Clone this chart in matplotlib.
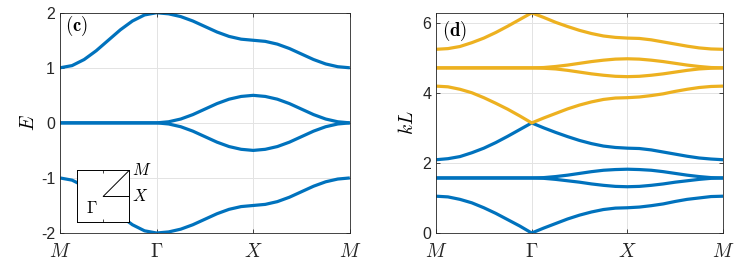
import numpy as np
import matplotlib
matplotlib.use("Agg")
import matplotlib.pyplot as plt

plt.rcParams['font.family'] = ['Liberation Sans', 'DejaVu Sans']
plt.rcParams['mathtext.fontset'] = 'cm'

BLUE = '#0072BD'
ORANGE = '#EDB120'

# high-symmetry path M -> Gamma -> X -> M, 8 samples per segment
k_labels = [r'$M$', r'$\Gamma$', r'$X$', r'$M$']
k_path = np.linspace(0, 3, 25)

# panel (c): energy bands
E_top = [1.00, 1.04, 1.15, 1.31, 1.50, 1.69, 1.85, 1.96, 2.00, 1.98, 1.93, 1.85, 1.75,
         1.65, 1.57, 1.52, 1.50, 1.48, 1.43, 1.35, 1.25, 1.15, 1.07, 1.02, 1.00]
E_mid_up = [0, 0, 0, 0, 0, 0, 0, 0, 0, 0.02, 0.07, 0.15, 0.25,
            0.35, 0.43, 0.48, 0.50, 0.48, 0.43, 0.35, 0.25, 0.15, 0.07, 0.02, 0.00]
E_mid_dn = [0, 0, 0, 0, 0, 0, 0, 0, 0, -0.02, -0.07, -0.15, -0.25,
            -0.35, -0.43, -0.48, -0.50, -0.48, -0.43, -0.35, -0.25, -0.15, -0.07, -0.02, 0.00]
E_bot = [-1.00, -1.04, -1.15, -1.31, -1.50, -1.69, -1.85, -1.96, -2.00, -1.98, -1.93, -1.85, -1.75,
         -1.65, -1.57, -1.52, -1.50, -1.48, -1.43, -1.35, -1.25, -1.15, -1.07, -1.02, -1.00]

# panel (d): kL bands, first branch (blue) and second branch (orange)
kL_b1 = [1.05, 1.03, 0.96, 0.86, 0.72, 0.56, 0.38, 0.20, 0.00, 0.14, 0.27, 0.40, 0.51,
         0.60, 0.67, 0.71, 0.72, 0.74, 0.78, 0.83, 0.90, 0.96, 1.00, 1.04, 1.05]
kL_b2 = [1.57, 1.57, 1.57, 1.57, 1.57, 1.57, 1.57, 1.57, 1.57, 1.56, 1.53, 1.49, 1.45,
         1.40, 1.36, 1.33, 1.32, 1.33, 1.36, 1.40, 1.45, 1.49, 1.53, 1.56, 1.57]
kL_b3 = [1.57, 1.57, 1.57, 1.57, 1.57, 1.57, 1.57, 1.57, 1.57, 1.58, 1.61, 1.65, 1.70,
         1.75, 1.79, 1.81, 1.82, 1.81, 1.79, 1.75, 1.70, 1.65, 1.61, 1.58, 1.57]
kL_b4 = [2.09, 2.12, 2.18, 2.29, 2.42, 2.58, 2.76, 2.95, 3.14, 3.00, 2.87, 2.75, 2.64,
         2.55, 2.48, 2.44, 2.42, 2.41, 2.37, 2.31, 2.25, 2.19, 2.14, 2.11, 2.09]
kL_o1 = [4.19, 4.17, 4.10, 4.00, 3.86, 3.70, 3.53, 3.34, 3.14, 3.28, 3.41, 3.54, 3.65,
         3.74, 3.81, 3.85, 3.86, 3.88, 3.92, 3.97, 4.04, 4.10, 4.15, 4.18, 4.19]
kL_o2 = [4.71, 4.71, 4.71, 4.71, 4.71, 4.71, 4.71, 4.71, 4.71, 4.70, 4.68, 4.64, 4.59,
         4.54, 4.50, 4.47, 4.46, 4.47, 4.50, 4.54, 4.59, 4.64, 4.68, 4.70, 4.71]
kL_o3 = [4.71, 4.71, 4.71, 4.71, 4.71, 4.71, 4.71, 4.71, 4.71, 4.72, 4.75, 4.79, 4.84,
         4.89, 4.93, 4.96, 4.97, 4.96, 4.93, 4.89, 4.84, 4.79, 4.75, 4.72, 4.71]
kL_o4 = [5.24, 5.26, 5.32, 5.43, 5.56, 5.72, 5.90, 6.09, 6.28, 6.15, 6.01, 5.89, 5.78,
         5.69, 5.62, 5.58, 5.56, 5.55, 5.51, 5.45, 5.39, 5.33, 5.28, 5.25, 5.24]

c_yticks = [-2, -1, 0, 1, 2]
d_yticks = [0, 2, 4, 6]


def style_axes(ax):
    for s in ax.spines.values():
        s.set_color('#262626')
        s.set_linewidth(0.6)
    ax.grid(True, color='#e3e3e3', linewidth=0.7)
    ax.set_axisbelow(True)
    ax.tick_params(direction='in', length=3, width=0.6, top=True, right=True,
                   colors='#262626', labelsize=11.5)
    ax.tick_params(axis='x', labelsize=14, pad=7)
    ax.set_xlim(0, 3)
    ax.set_xticks([0, 1, 2, 3])
    ax.set_xticklabels(k_labels)


fig = plt.figure(figsize=(7.47, 2.67), dpi=100)

# (c)
axc = fig.add_axes([0.0803, 0.1273, 0.388, 0.825])
for band in [E_top, E_mid_up, E_mid_dn, E_bot]:
    axc.plot(k_path, band, color=BLUE, linewidth=2.3, solid_capstyle='butt')
style_axes(axc)
axc.set_ylim(-2, 2)
axc.set_yticks(c_yticks)
axc.set_yticklabels([str(v) for v in c_yticks])
axc.set_ylabel(r'$E$', fontsize=14, labelpad=2)
axc.text(0.017, 0.94, r'$\mathbf{(c)}$', transform=axc.transAxes, fontsize=13.5,
         va='center', ha='left')

# inset: Brillouin zone path
axi = fig.add_axes([0.1035, 0.1674, 0.0696, 0.1948])
axi.set_facecolor('white')
axi.plot([0, 1], [0, 1], color='black', linewidth=0.7)
axi.plot([0, 1], [0, 0], color='black', linewidth=0.7)
axi.set_xlim(-1, 1)
axi.set_ylim(-1, 1)
axi.set_xticks([0])
axi.set_yticks([])
axi.tick_params(direction='in', length=2, width=0.5, top=True, labelbottom=False)
for s in axi.spines.values():
    s.set_linewidth(0.7)
    s.set_color('black')
axi.text(-0.45, -0.45, r'$\Gamma$', fontsize=12, ha='center', va='center')
axi.text(1.12, 1.0, r'$M$', fontsize=12, ha='left', va='center', clip_on=False)
axi.text(1.12, 0.0, r'$X$', fontsize=12, ha='left', va='center', clip_on=False)

# (d)
axd = fig.add_axes([0.5837, 0.1273, 0.3842, 0.825])
for band in [kL_b1, kL_b2, kL_b3, kL_b4]:
    axd.plot(k_path, band, color=BLUE, linewidth=2.3, solid_capstyle='butt')
for band in [kL_o1, kL_o2, kL_o3, kL_o4]:
    axd.plot(k_path, band, color=ORANGE, linewidth=2.3, solid_capstyle='butt')
style_axes(axd)
axd.set_ylim(0, 6.2832)
axd.set_yticks(d_yticks)
axd.set_ylabel(r'$kL$', fontsize=14, labelpad=4)
axd.text(0.02, 0.918, r'$\mathbf{(d)}$', transform=axd.transAxes, fontsize=13.5,
         va='center', ha='left')

fig.savefig('out.png', dpi=100)
